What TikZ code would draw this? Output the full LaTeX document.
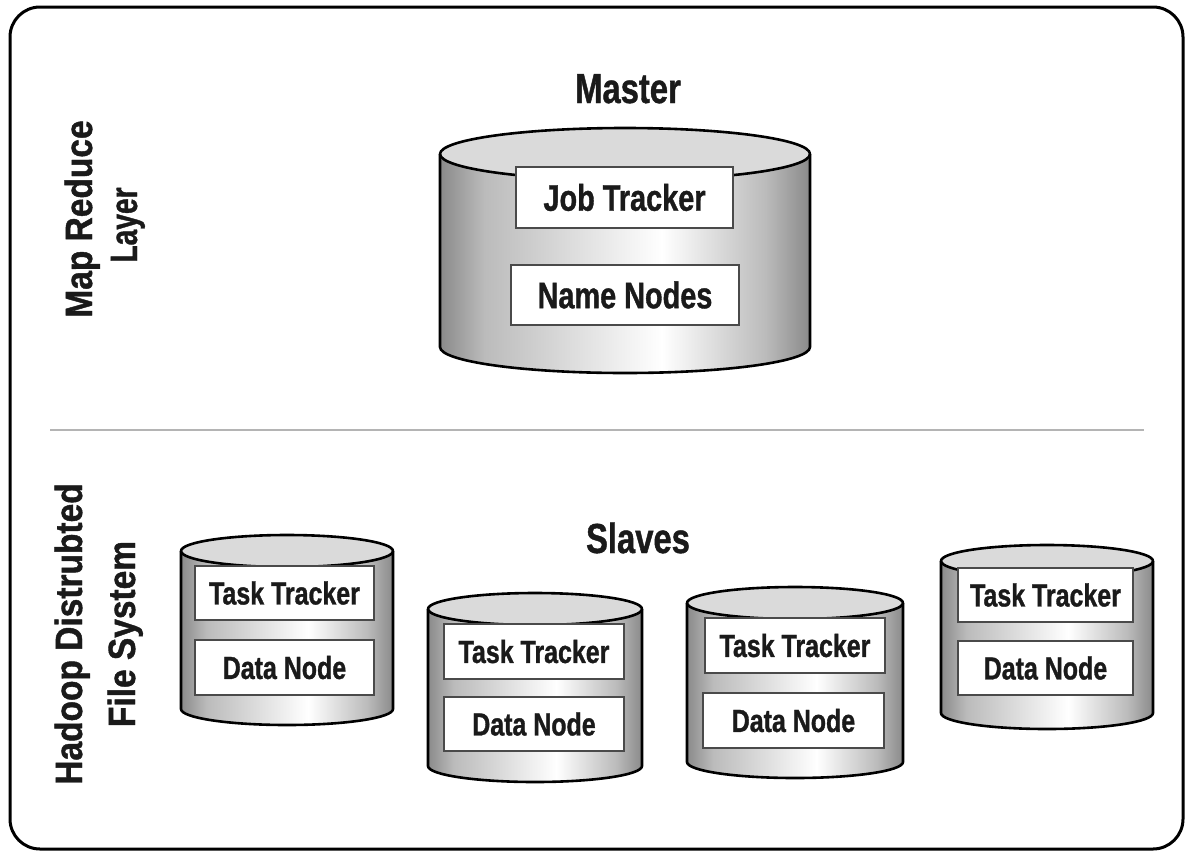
\documentclass[tikz,border=0pt]{standalone}
\usepackage{fontspec}
\newfontfamily\labelfont[FakeStretch=0.78, BoldFeatures={FakeBold=1.0}]{Liberation Sans}
\definecolor{cylside}{HTML}{8A8A8A}
\definecolor{cylmid}{HTML}{BBBBBB}
\definecolor{cyltop}{HTML}{DADADA}
\definecolor{boxedge}{HTML}{4A4A4A}
\definecolor{inkc}{HTML}{1A1A1A}
\definecolor{divgray}{HTML}{B4B4B4}
% body of a cylinder: grey at both sides, white a little right of the middle
\pgfdeclarehorizontalshading{cylbody}{100bp}{color(0bp)=(cylside); color(25bp)=(cylside); color(31bp)=(cylmid); color(55bp)=(white); color(69bp)=(cylmid); color(75bp)=(cylside); color(100bp)=(cylside)}
% #1 centre x, #2 top ellipse y, #3 bottom ellipse y, #4 x radius, #5 y radius
\newcommand\drumcyl[5]{%
  \shade[shading=cylbody] (#1-#4,#2) -- (#1-#4,#3)
    arc[start angle=180,end angle=0,x radius=#4,y radius=#5] -- (#1+#4,#2) -- cycle;
  \draw[cylline, fill=cyltop] (#1,#2) ellipse[x radius=#4, y radius=#5];
  \draw[cylline] (#1-#4,#2) -- (#1-#4,#3)
    arc[start angle=180,end angle=0,x radius=#4,y radius=#5] -- (#1+#4,#2);
}
\tikzset{
  cylline/.style={draw=black, line width=2.6pt, line join=round},
  slotbox/.style={draw=boxedge, line width=1.6pt, fill=white, inner sep=0pt,
    text=inkc, font=\labelfont\bfseries\fontsize{32pt}{36pt}\selectfont},
  bigbox/.style={slotbox, font=\labelfont\bfseries\fontsize{37pt}{41pt}\selectfont},
  heading/.style={text=inkc, anchor=base, font=\labelfont\bfseries\fontsize{42pt}{46pt}\selectfont},
  sidelabel/.style={text=inkc, anchor=base, rotate=90, font=\labelfont\bfseries\fontsize{38pt}{42pt}\selectfont},
}
\begin{document}
\begin{tikzpicture}[x=1pt,y=-1pt]
\fill[white] (0,0) rectangle (1186,852);
\useasboundingbox (0,0) rectangle (1186,852);

% outer frame and layer divider
\draw[line width=3pt, rounded corners=30pt] (10,7) rectangle (1183,849);
\draw[divgray, line width=2pt] (50,430) -- (1144,430);

% side captions
\node[sidelabel] (mapreduce) at (92,219) {\scalebox{1.13}[1]{Map Reduce}};
\node[sidelabel] (layer) at (137,225) {\scalebox{0.95}[1]{Layer}};
\node[sidelabel] (hadoop) at (82,634) {\scalebox{1.13}[1]{Hadoop Distrubted}};
\node[sidelabel] (filesys) at (135,634) {\scalebox{1.13}[1]{File System}};

% master
\node[heading] (master) at (628,103) {Master};
\drumcyl{625}{154}{347}{185}{26}
\node[bigbox, minimum width=217pt, minimum height=61pt] (jobtracker) at (624.5,197.5) {Job Tracker};
\node[bigbox, minimum width=228pt, minimum height=60pt] (namenodes) at (625,295) {Name Nodes};

% slaves
\node[heading] (slaves) at (638,553) {Slaves};

\drumcyl{287}{551}{709}{106}{16}
\node[slotbox, minimum width=179pt, minimum height=54pt] (tt1) at (284.5,593) {Task Tracker};
\node[slotbox, minimum width=179pt, minimum height=55pt] (dn1) at (284.5,667.5) {Data Node};

\drumcyl{535}{609}{766}{107}{16}
\node[slotbox, minimum width=180pt, minimum height=55pt] (tt2) at (534,651.5) {Task Tracker};
\node[slotbox, minimum width=180pt, minimum height=54pt] (dn2) at (534,724) {Data Node};

\drumcyl{795}{603}{762}{108}{16}
\node[slotbox, minimum width=180pt, minimum height=55pt] (tt3) at (795,645.5) {Task Tracker};
\node[slotbox, minimum width=181pt, minimum height=55pt] (dn3) at (793.5,720.5) {Data Node};

\drumcyl{1047}{561}{713}{106}{16}
\node[slotbox, minimum width=175pt, minimum height=54pt] (tt4) at (1045.5,595) {Task Tracker};
\node[slotbox, minimum width=175pt, minimum height=54pt] (dn4) at (1045.5,668) {Data Node};
\end{tikzpicture}
\end{document}
